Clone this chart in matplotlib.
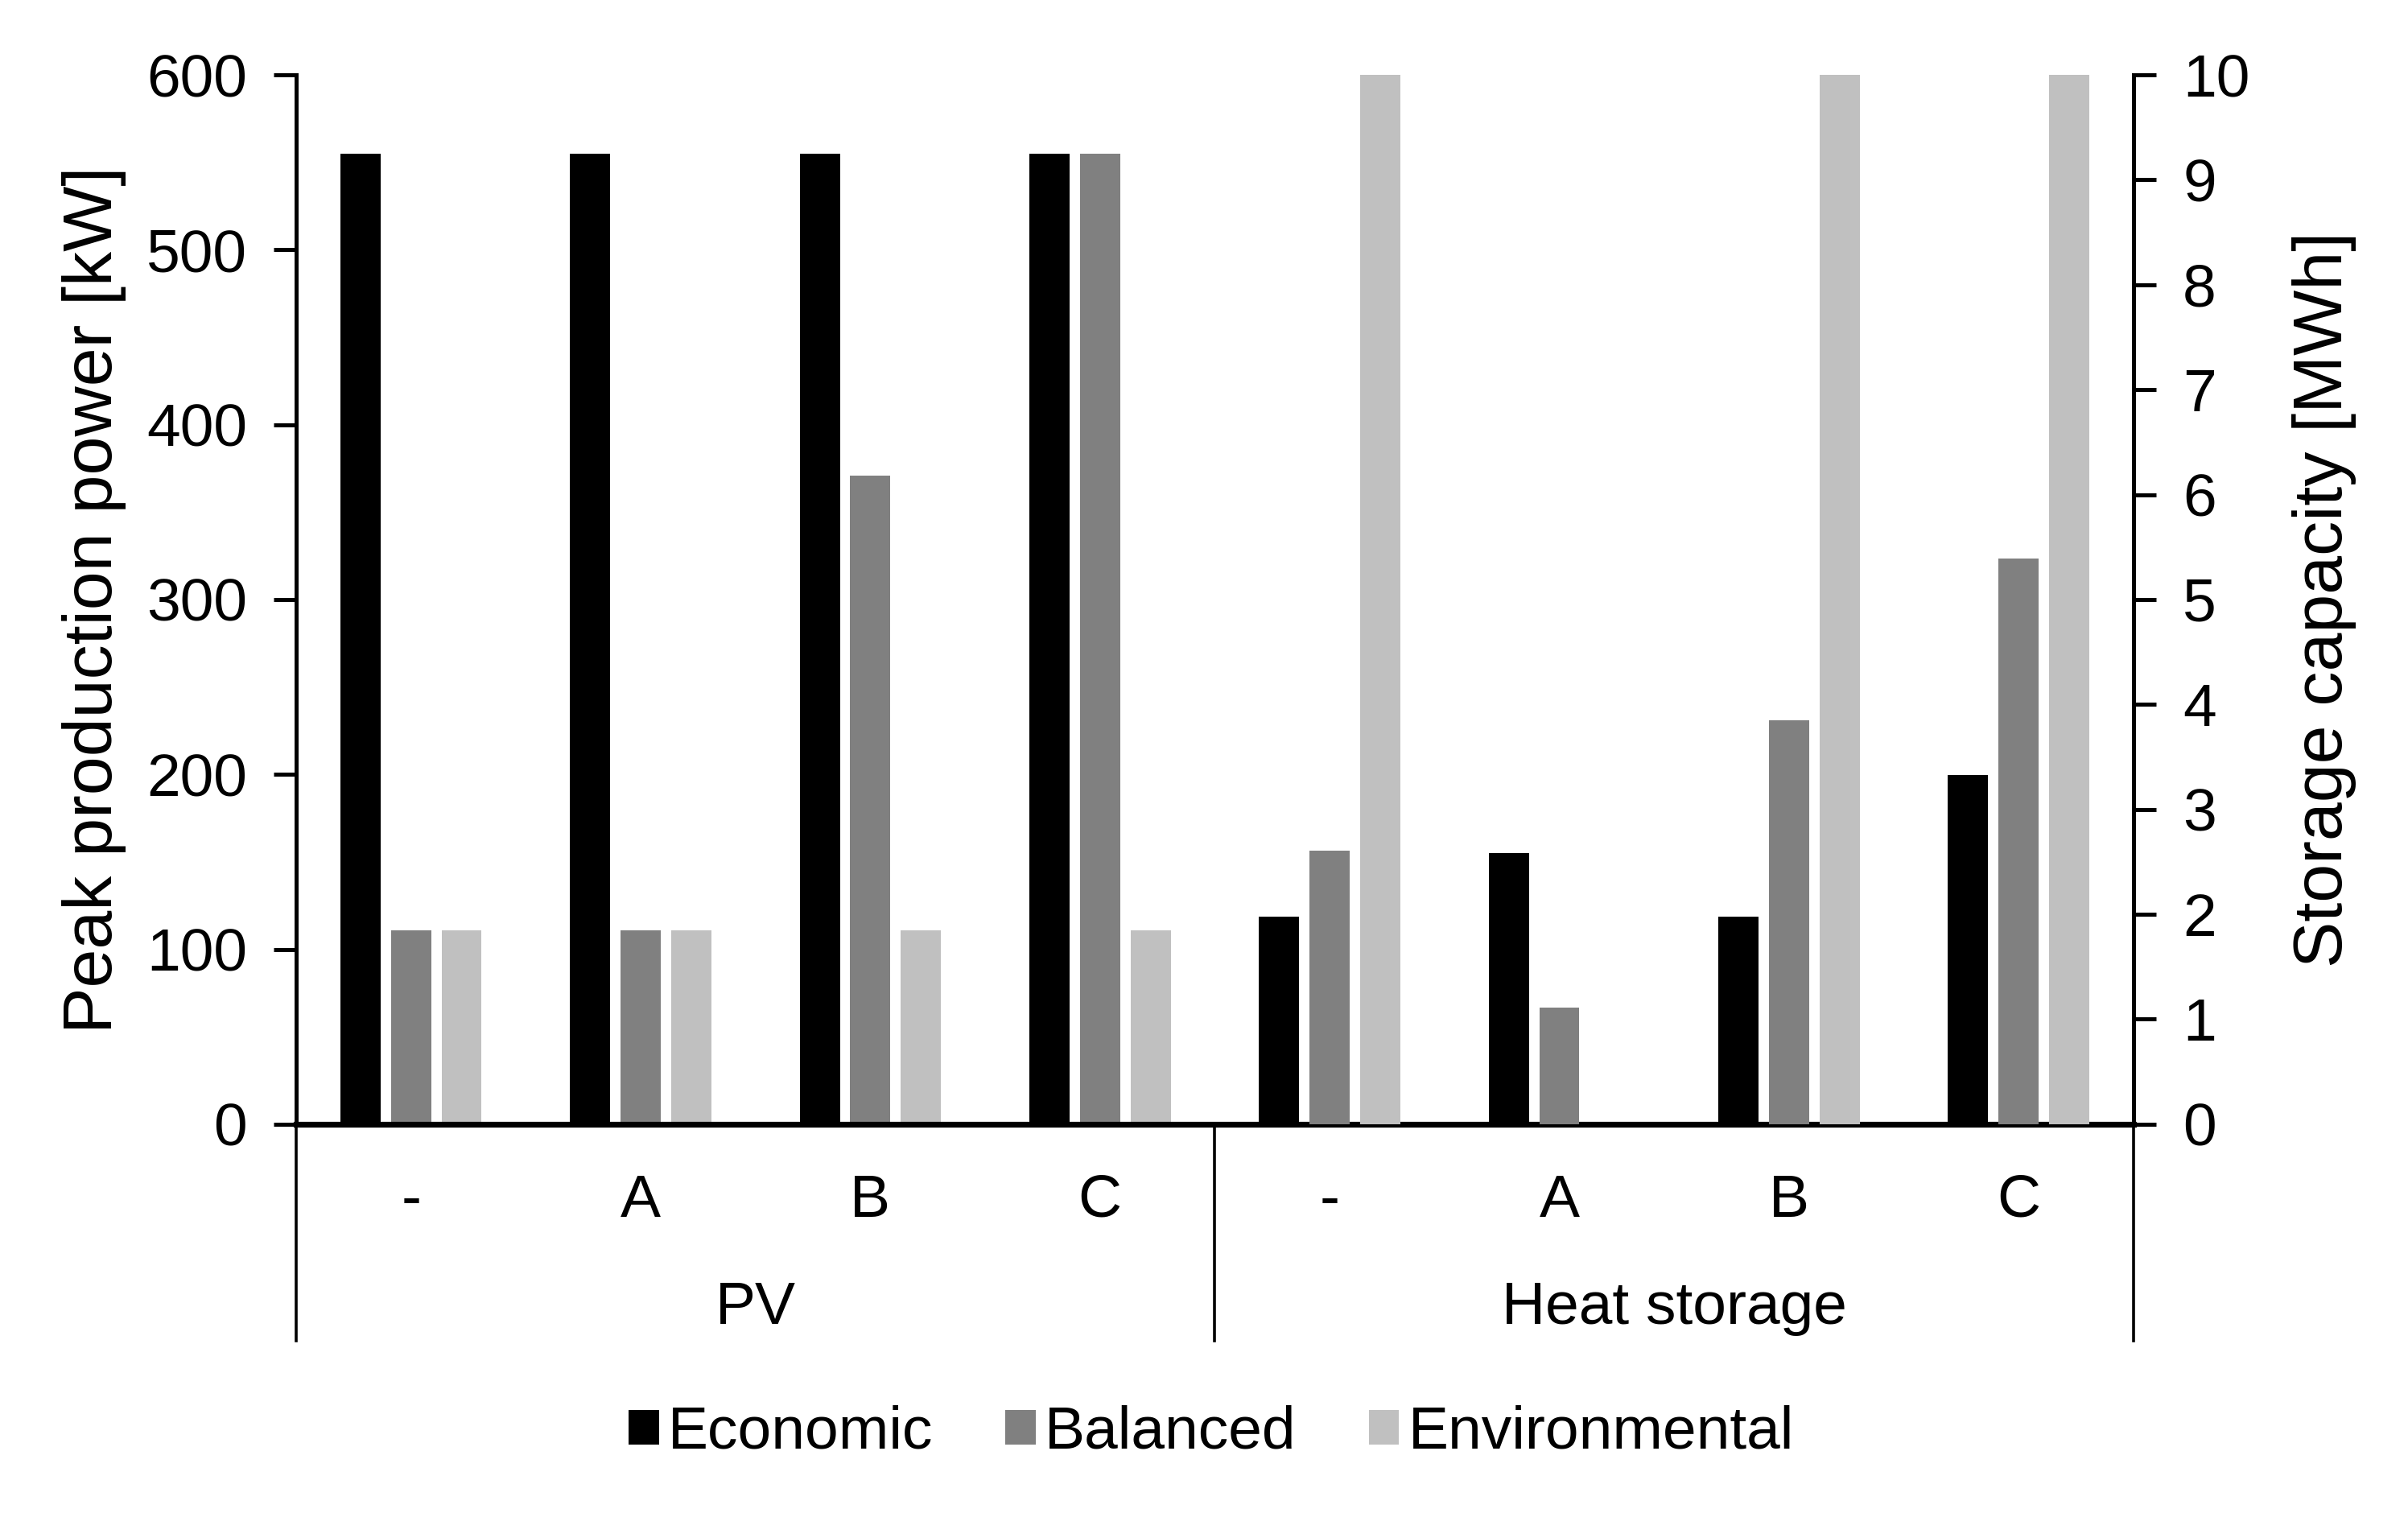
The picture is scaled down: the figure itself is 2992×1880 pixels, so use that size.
import matplotlib
matplotlib.use("Agg")
import matplotlib.pyplot as plt
from matplotlib.patches import Patch
from matplotlib.lines import Line2D
import matplotlib.transforms as mtransforms

plt.rcParams['font.family'] = ['Liberation Sans', 'DejaVu Sans']

# ---- data ----
groups = ["PV", "Heat storage"]
categories = ["-", "A", "B", "C"]
series = ["Economic", "Balanced", "Environmental"]
colors = ["#000000", "#808080", "#C0C0C0"]

# PV: peak production power [kW] (left axis)
pv_economic = [555, 555, 555, 555]
pv_balanced = [111, 111, 371, 555]
pv_environmental = [111, 111, 111, 111]

# Heat storage: storage capacity [MWh] (right axis)
hs_economic = [1.98, 2.58, 1.98, 3.33]
hs_balanced = [2.61, 1.11, 3.85, 5.39]
hs_environmental = [10, 0, 10, 10]

left_ticks = [0, 100, 200, 300, 400, 500, 600]
right_ticks = [0, 1, 2, 3, 4, 5, 6, 7, 8, 9, 10]

# ---- figure ----
fig = plt.figure(figsize=(14.96, 9.40), dpi=200)
ax = fig.add_axes([0.123, 0.257, 0.763, 0.6935])
ax2 = ax.twinx()

width = 0.175
offsets = [-0.22, 0.0, 0.22]
pv_vals = [pv_economic, pv_balanced, pv_environmental]
hs_vals = [hs_economic, hs_balanced, hs_environmental]
n = len(categories)
for k in range(3):
    xs = [i + offsets[k] for i in range(n)]
    ax.bar(xs, pv_vals[k], width=width, color=colors[k], zorder=2)
    xs2 = [n + i + offsets[k] for i in range(n)]
    ax2.bar(xs2, hs_vals[k], width=width, color=colors[k], zorder=2)

ax.set_xlim(-0.5, 2 * n - 0.5)
ax.set_ylim(0, 600)
ax2.set_ylim(0, 10)
ax.set_yticks(left_ticks)
ax2.set_yticks(right_ticks)

fs = 27
ax.tick_params(axis='y', labelsize=fs, length=10, width=1.8, direction='out', pad=12)
ax2.tick_params(axis='y', labelsize=fs, length=10, width=1.8, direction='out', pad=12)
ax.set_xticks(list(range(2 * n)))
ax.set_xticklabels(categories * 2)
ax.tick_params(axis='x', labelsize=fs, length=0, pad=22)

for a in (ax, ax2):
    a.spines['top'].set_visible(False)
    a.spines['left'].set_linewidth(1.8)
    a.spines['right'].set_linewidth(1.8)
ax.spines['bottom'].set_linewidth(2.6)
ax.spines['bottom'].set_zorder(3)
ax2.spines['left'].set_visible(False)
ax2.spines['bottom'].set_visible(False)
ax.spines['right'].set_visible(False)

ax.set_ylabel("Peak production power [kW]", fontsize=31, labelpad=9)
ax2.set_ylabel("Storage capacity [MWh]", fontsize=31, labelpad=19)

# group labels and separators below the axis
trans = mtransforms.blended_transform_factory(ax.transData, ax.transAxes)
ax.text(1.5, -0.1755, groups[0], transform=trans, ha='center', va='center', fontsize=fs)
ax.text(5.5, -0.1755, groups[1], transform=trans, ha='center', va='center', fontsize=fs)
for xv in (-0.5, 3.5, 7.5):
    ax.add_line(Line2D([xv, xv], [0, -0.2063], transform=trans, color='black',
                       lw=1.3, clip_on=False))

handles = [Patch(facecolor=c, edgecolor='none', label=s) for c, s in zip(colors, series)]
fig.legend(handles=handles, loc='center', bbox_to_anchor=(0.503, 0.053), ncol=3,
           frameon=False, fontsize=fs, handlelength=0.5, handleheight=0.5,
           handletextpad=0.15, columnspacing=1.2)

fig.savefig("out.png", dpi=200)
